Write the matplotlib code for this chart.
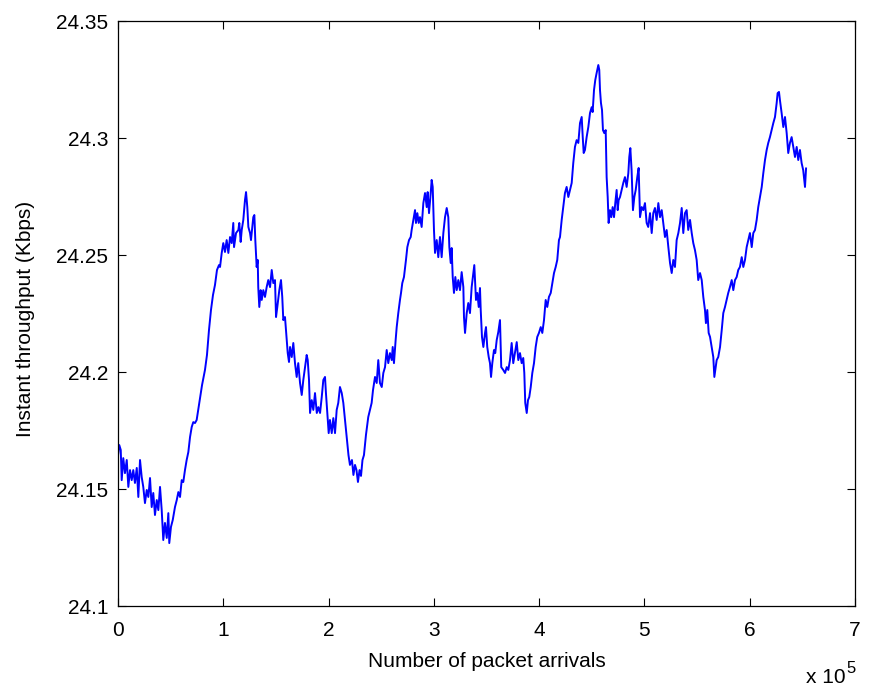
import numpy as np
import matplotlib
matplotlib.use("Agg")
import matplotlib.pyplot as plt
from matplotlib.ticker import FuncFormatter, MultipleLocator

plt.rcParams['font.family'] = ['Liberation Sans', 'DejaVu Sans']

# packet arrivals (units of 1e5) and instant throughput (Kbps)
arrivals = [
    0.000, 0.012, 0.026, 0.035, 0.050, 0.066, 0.083, 0.098, 0.114, 0.130,
    0.145, 0.161, 0.178, 0.193, 0.209, 0.225, 0.240, 0.256, 0.273, 0.288,
    0.304, 0.320, 0.335, 0.351, 0.368, 0.383, 0.399, 0.415, 0.430, 0.446,
    0.463, 0.478, 0.487, 0.503, 0.520, 0.541, 0.558, 0.573, 0.589, 0.605,
    0.620, 0.636, 0.652, 0.668, 0.684, 0.700, 0.715, 0.731, 0.747, 0.769,
    0.798, 0.826, 0.845, 0.864, 0.883, 0.902, 0.921, 0.940, 0.959, 0.969,
    0.985, 1.000, 1.016, 1.032, 1.048, 1.064, 1.080, 1.095, 1.102, 1.121,
    1.143, 1.152, 1.165, 1.175, 1.190, 1.206, 1.216, 1.228, 1.238, 1.254,
    1.263, 1.276, 1.285, 1.295, 1.304, 1.317, 1.327, 1.332, 1.342, 1.355,
    1.365, 1.380, 1.396, 1.412, 1.427, 1.444, 1.460, 1.475, 1.491, 1.501,
    1.513, 1.532, 1.548, 1.560, 1.570, 1.586, 1.602, 1.612, 1.624, 1.634,
    1.650, 1.665, 1.681, 1.697, 1.712, 1.729, 1.745, 1.760, 1.776, 1.792,
    1.802, 1.814, 1.824, 1.840, 1.855, 1.871, 1.888, 1.903, 1.919, 1.935,
    1.950, 1.966, 1.975, 1.988, 2.001, 2.013, 2.030, 2.045, 2.061, 2.077,
    2.092, 2.108, 2.125, 2.140, 2.156, 2.175, 2.189, 2.203, 2.222, 2.236,
    2.251, 2.265, 2.279, 2.294, 2.308, 2.322, 2.336, 2.355, 2.377, 2.393,
    2.409, 2.422, 2.441, 2.457, 2.472, 2.488, 2.505, 2.520, 2.536, 2.552,
    2.567, 2.583, 2.600, 2.609, 2.621, 2.637, 2.647, 2.662, 2.678, 2.688,
    2.700, 2.716, 2.735, 2.748, 2.764, 2.780, 2.789, 2.805, 2.821, 2.830,
    2.843, 2.856, 2.868, 2.884, 2.900, 2.916, 2.932, 2.941, 2.954, 2.970,
    2.979, 2.989, 3.001, 3.011, 3.027, 3.042, 3.058, 3.074, 3.090, 3.106,
    3.122, 3.137, 3.147, 3.160, 3.169, 3.179, 3.191, 3.204, 3.217, 3.232,
    3.248, 3.264, 3.280, 3.286, 3.296, 3.312, 3.327, 3.343, 3.359, 3.375,
    3.384, 3.400, 3.413, 3.426, 3.438, 3.445, 3.457, 3.470, 3.486, 3.495,
    3.507, 3.521, 3.533, 3.543, 3.555, 3.571, 3.583, 3.597, 3.612, 3.628,
    3.640, 3.659, 3.676, 3.692, 3.707, 3.723, 3.739, 3.754, 3.770, 3.787,
    3.802, 3.818, 3.834, 3.849, 3.859, 3.868, 3.882, 3.894, 3.906, 3.920,
    3.935, 3.951, 3.967, 3.982, 3.998, 4.015, 4.030, 4.046, 4.062, 4.077,
    4.093, 4.110, 4.125, 4.141, 4.157, 4.172, 4.188, 4.198, 4.214, 4.229,
    4.245, 4.261, 4.277, 4.293, 4.309, 4.324, 4.340, 4.356, 4.372, 4.388,
    4.404, 4.414, 4.423, 4.435, 4.451, 4.467, 4.483, 4.499, 4.508, 4.521,
    4.533, 4.546, 4.562, 4.571, 4.578, 4.587, 4.597, 4.606, 4.619, 4.632,
    4.641, 4.651, 4.660, 4.673, 4.685, 4.698, 4.711, 4.723, 4.736, 4.746,
    4.755, 4.768, 4.784, 4.799, 4.815, 4.831, 4.847, 4.856, 4.866, 4.878,
    4.891, 4.904, 4.917, 4.932, 4.945, 4.958, 4.974, 4.989, 5.005, 5.021,
    5.036, 5.053, 5.069, 5.084, 5.100, 5.116, 5.132, 5.148, 5.164, 5.179,
    5.195, 5.211, 5.227, 5.243, 5.259, 5.274, 5.290, 5.306, 5.322, 5.338,
    5.354, 5.369, 5.385, 5.401, 5.416, 5.433, 5.449, 5.464, 5.480, 5.496,
    5.511, 5.528, 5.544, 5.559, 5.575, 5.584, 5.597, 5.610, 5.623, 5.639,
    5.654, 5.664, 5.673, 5.686, 5.701, 5.718, 5.734, 5.749, 5.765, 5.781,
    5.796, 5.812, 5.829, 5.844, 5.860, 5.876, 5.891, 5.907, 5.924, 5.939,
    5.955, 5.971, 5.986, 6.002, 6.019, 6.034, 6.050, 6.066, 6.081, 6.097,
    6.114, 6.129, 6.145, 6.161, 6.176, 6.192, 6.208, 6.224, 6.240, 6.256,
    6.265, 6.278, 6.287, 6.303, 6.319, 6.335, 6.351, 6.366, 6.382, 6.398,
    6.414, 6.430, 6.446, 6.461, 6.477, 6.493, 6.508, 6.525, 6.535,
]
throughput = [
    24.1645, 24.1688, 24.1667, 24.1538, 24.1632, 24.1568, 24.1624, 24.1509, 24.1581, 24.1538,
    24.1581, 24.1526, 24.1590, 24.1466, 24.1624, 24.1551, 24.1509, 24.1440, 24.1496, 24.1466,
    24.1547, 24.1423, 24.1483, 24.1389, 24.1453, 24.1410, 24.1509, 24.1410, 24.1282, 24.1355,
    24.1291, 24.1397, 24.1269, 24.1338, 24.1368, 24.1423, 24.1453, 24.1487, 24.1466, 24.1538,
    24.1530, 24.1581, 24.1624, 24.1658, 24.1722, 24.1765, 24.1786, 24.1782, 24.1795, 24.1859,
    24.1944, 24.2009, 24.2073, 24.2179, 24.2265, 24.2329, 24.2372, 24.2436, 24.2457, 24.2449,
    24.2509, 24.2551, 24.2513, 24.2564, 24.2509, 24.2577, 24.2551, 24.2637, 24.2534, 24.2594,
    24.2607, 24.2637, 24.2556, 24.2607, 24.2650, 24.2735, 24.2769, 24.2705, 24.2620, 24.2594,
    24.2564, 24.2620, 24.2662, 24.2671, 24.2564, 24.2449, 24.2479, 24.2363, 24.2278, 24.2350,
    24.2308, 24.2350, 24.2321, 24.2363, 24.2393, 24.2363, 24.2436, 24.2380, 24.2393, 24.2235,
    24.2278, 24.2350, 24.2393, 24.2321, 24.2222, 24.2235, 24.2137, 24.2081, 24.2043, 24.2107,
    24.2064, 24.2124, 24.2038, 24.1979, 24.2038, 24.1953, 24.1902, 24.1966, 24.2021, 24.2073,
    24.2051, 24.1966, 24.1825, 24.1880, 24.1838, 24.1910, 24.1825, 24.1850, 24.1825, 24.1893,
    24.1966, 24.1979, 24.1910, 24.1825, 24.1739, 24.1795, 24.1739, 24.1803, 24.1739, 24.1838,
    24.1868, 24.1936, 24.1910, 24.1868, 24.1795, 24.1709, 24.1645, 24.1603, 24.1624, 24.1560,
    24.1603, 24.1581, 24.1530, 24.1581, 24.1556, 24.1624, 24.1645, 24.1731, 24.1808, 24.1838,
    24.1868, 24.1923, 24.1979, 24.1953, 24.2051, 24.1953, 24.1936, 24.1996, 24.2021, 24.2094,
    24.2038, 24.2081, 24.2051, 24.2107, 24.2038, 24.2137, 24.2192, 24.2252, 24.2308, 24.2338,
    24.2380, 24.2406, 24.2479, 24.2534, 24.2564, 24.2577, 24.2607, 24.2650, 24.2692, 24.2637,
    24.2679, 24.2637, 24.2662, 24.2620, 24.2722, 24.2765, 24.2705, 24.2769, 24.2679, 24.2765,
    24.2821, 24.2791, 24.2607, 24.2509, 24.2564, 24.2491, 24.2577, 24.2491, 24.2594, 24.2662,
    24.2701, 24.2662, 24.2534, 24.2466, 24.2530, 24.2406, 24.2338, 24.2406, 24.2350, 24.2393,
    24.2350, 24.2427, 24.2363, 24.2235, 24.2167, 24.2252, 24.2295, 24.2252, 24.2363, 24.2423,
    24.2457, 24.2308, 24.2338, 24.2278, 24.2359, 24.2265, 24.2150, 24.2107, 24.2167, 24.2192,
    24.2107, 24.2064, 24.2038, 24.1979, 24.2038, 24.2094, 24.2081, 24.2137, 24.2171, 24.2222,
    24.2021, 24.2009, 24.1996, 24.2021, 24.2009, 24.2051, 24.2124, 24.2038, 24.2081, 24.2128,
    24.2051, 24.2081, 24.2038, 24.2060, 24.1996, 24.1868, 24.1825, 24.1880, 24.1893, 24.1936,
    24.1996, 24.2038, 24.2107, 24.2150, 24.2167, 24.2192, 24.2167, 24.2222, 24.2308, 24.2278,
    24.2321, 24.2338, 24.2380, 24.2423, 24.2449, 24.2479, 24.2564, 24.2577, 24.2650, 24.2705,
    24.2765, 24.2791, 24.2748, 24.2778, 24.2808, 24.2893, 24.2962, 24.2991, 24.2979, 24.3064,
    24.3090, 24.3004, 24.2936, 24.2949, 24.3004, 24.3047, 24.3107, 24.3132, 24.3111, 24.3205,
    24.3248, 24.3278, 24.3312, 24.3291, 24.3205, 24.3150, 24.3120, 24.3034, 24.3021, 24.3034,
    24.2833, 24.2748, 24.2637, 24.2692, 24.2662, 24.2705, 24.2662, 24.2722, 24.2778, 24.2692,
    24.2735, 24.2748, 24.2778, 24.2808, 24.2833, 24.2791, 24.2850, 24.2919, 24.2957, 24.2863,
    24.2692, 24.2748, 24.2778, 24.2833, 24.2872, 24.2662, 24.2705, 24.2692, 24.2722, 24.2637,
    24.2620, 24.2679, 24.2594, 24.2679, 24.2701, 24.2650, 24.2722, 24.2662, 24.2692, 24.2637,
    24.2577, 24.2607, 24.2534, 24.2466, 24.2423, 24.2479, 24.2449, 24.2564, 24.2594, 24.2637,
    24.2701, 24.2594, 24.2679, 24.2692, 24.2607, 24.2650, 24.2594, 24.2551, 24.2521, 24.2479,
    24.2393, 24.2423, 24.2393, 24.2321, 24.2265, 24.2209, 24.2265, 24.2167, 24.2150, 24.2107,
    24.2064, 24.1979, 24.2009, 24.2051, 24.2064, 24.2107, 24.2179, 24.2252, 24.2278, 24.2308,
    24.2338, 24.2363, 24.2393, 24.2350, 24.2393, 24.2406, 24.2436, 24.2449, 24.2491, 24.2449,
    24.2479, 24.2534, 24.2564, 24.2594, 24.2534, 24.2594, 24.2607, 24.2650, 24.2705, 24.2748,
    24.2791, 24.2850, 24.2906, 24.2949, 24.2979, 24.3004, 24.3034, 24.3064, 24.3090, 24.3150,
    24.3192, 24.3197, 24.3162, 24.3107, 24.3047, 24.3090, 24.3021, 24.2936, 24.2979, 24.3004,
    24.2962, 24.2919, 24.2962, 24.2906, 24.2949, 24.2893, 24.2863, 24.2791, 24.2870,
]

fs = 15

fig = plt.figure(figsize=(8.69, 6.90), dpi=100)
ax = fig.add_axes([0.1358, 0.1217, 0.8481, 0.8478])

ax.plot(arrivals, throughput, color=(0, 0, 1), linewidth=1.4)

ax.set_xlim(0, 7)
ax.set_ylim(24.1, 24.35)
ax.xaxis.set_major_locator(MultipleLocator(1))
ax.yaxis.set_major_locator(MultipleLocator(0.05))
ax.yaxis.set_major_formatter(FuncFormatter(lambda v, p: "%g" % round(v, 4)))
ax.xaxis.set_major_formatter(FuncFormatter(lambda v, p: "%g" % v))

ax.tick_params(direction='in', top=True, right=True, length=5.5, width=0.8,
               labelsize=fs)
ax.tick_params(axis='x', pad=10.5)
ax.tick_params(axis='y', pad=7)
for s in ax.spines.values():
    s.set_linewidth(0.9)

ax.set_xlabel("Number of packet arrivals", fontsize=fs)
ax.set_ylabel("Instant throughput (Kbps)", fontsize=fs)
ax.xaxis.set_label_coords(0.5, -0.078)
ax.yaxis.set_label_coords(-0.113, 0.49)

# MATLAB-style exponent under the right end of the x axis
fig.text(0.9275, 0.0101, "x 10", fontsize=fs, va='baseline', ha='left')
fig.text(0.9735, 0.0251, "5", fontsize=12, va='baseline', ha='left')

fig.savefig("out.png", dpi=100)
